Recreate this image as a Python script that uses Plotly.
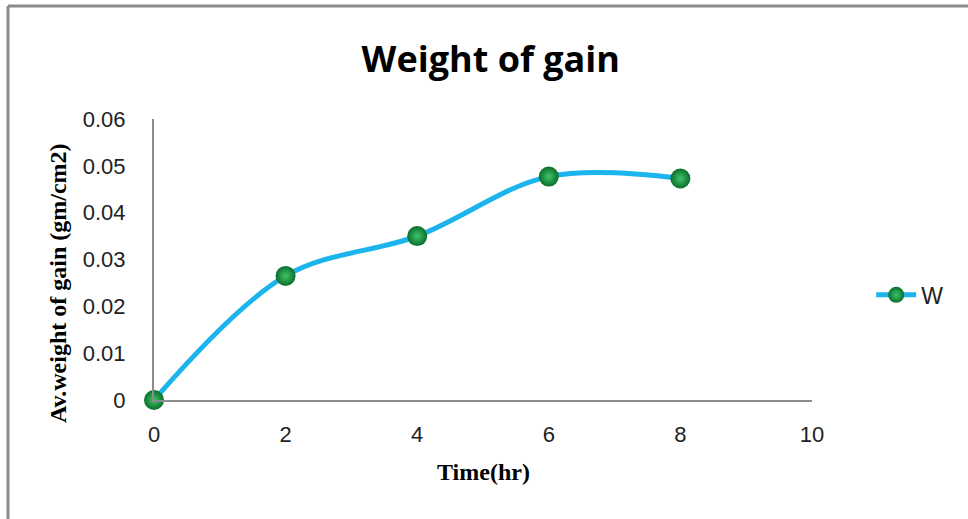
import plotly.graph_objects as go

# Average weight gain over time
time_hr = [0, 2, 4, 6, 8]
weight_gain = [0.0, 0.0265, 0.035, 0.0477, 0.0473]
series_name = "W"

x_ticks = [0, 2, 4, 6, 8, 10]
y_ticks = [0, 0.01, 0.02, 0.03, 0.04, 0.05, 0.06]
y_tick_text = ["0", "0.01", "0.02", "0.03", "0.04", "0.05", "0.06"]

fig = go.Figure()
fig.add_trace(go.Scatter(
    x=time_hr,
    y=weight_gain,
    name=series_name,
    mode="lines+markers",
    line=dict(color="#1CB4EC", width=5, shape="spline", smoothing=1.0),
    marker=dict(
        size=20,
        color="#0A6E2C",
        gradient=dict(type="radial", color="#3FC468"),
        line=dict(width=0),
    ),
    cliponaxis=False,
))

axis_color = "#8C8C8C"
fig.update_layout(
    width=968,
    height=519,
    margin=dict(l=154, r=156, t=119, b=119),
    paper_bgcolor="white",
    plot_bgcolor="white",
    title=dict(
        text="<b>Weight of gain</b>",
        font=dict(family="Open Sans", size=36, color="black"),
        x=0.507, xanchor="center",
        y=1 - 59 / 519, yanchor="middle", yref="container",
    ),
    xaxis=dict(
        range=[0, 10],
        tickvals=x_ticks,
        showgrid=False,
        zeroline=False,
        showline=True,
        linecolor=axis_color,
        linewidth=2,
        ticks="outside",
        ticklen=14,
        tickcolor="rgba(0,0,0,0)",
        tickfont=dict(family="Liberation Sans", size=22, color="#222"),
    ),
    yaxis=dict(
        range=[0, 0.06],
        tickvals=y_ticks,
        ticktext=y_tick_text,
        showgrid=False,
        zeroline=False,
        showline=True,
        linecolor=axis_color,
        linewidth=2,
        ticks="outside",
        ticklen=22,
        tickcolor="rgba(0,0,0,0)",
        tickfont=dict(family="Liberation Sans", size=22, color="#222"),
    ),
    showlegend=True,
    legend=dict(
        x=1.09, y=0.374, xanchor="left", yanchor="middle",
        font=dict(family="Liberation Sans", size=23, color="#222"),
        itemwidth=40,
        bgcolor="rgba(0,0,0,0)",
    ),
    annotations=[
        dict(
            text="<b>Av.weight of gain (gm/cm2)</b>",
            xref="paper", yref="paper",
            x=(58 - 154) / 658, y=(400 - 283) / 281,
            xanchor="center", yanchor="middle",
            textangle=-90, showarrow=False,
            font=dict(family="Liberation Serif", size=24, color="black"),
        ),
        dict(
            text="<b>Time(hr)</b>",
            xref="paper", yref="paper",
            x=(483 - 154) / 658, y=(400 - 472) / 281,
            xanchor="center", yanchor="middle",
            showarrow=False,
            font=dict(family="Liberation Serif", size=24, color="black"),
        ),
    ],
    shapes=[
        # outer frame (top and left edges)
        dict(type="line", xref="paper", yref="paper",
             x0=(8 - 154) / 658, x1=(968 - 154) / 658,
             y0=(400 - 6) / 281, y1=(400 - 6) / 281,
             line=dict(color="#8A8A8A", width=3)),
        dict(type="line", xref="paper", yref="paper",
             x0=(8 - 154) / 658, x1=(8 - 154) / 658,
             y0=(400 - 6) / 281, y1=(400 - 519) / 281,
             line=dict(color="#8A8A8A", width=3)),
    ],
)

fig.write_html("out.html")
